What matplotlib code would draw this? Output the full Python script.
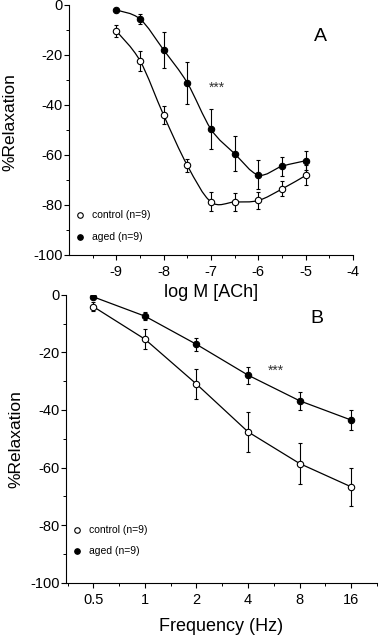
import matplotlib
matplotlib.use("Agg")
import matplotlib.pyplot as plt
import numpy as np
from matplotlib.lines import Line2D
from matplotlib.path import Path
from matplotlib.patches import PathPatch

plt.rcParams["font.family"] = ["Liberation Sans", "DejaVu Sans"]
plt.rcParams["axes.unicode_minus"] = False

# Panel A: ACh concentration-response
ach_logm = [-9, -8.5, -8, -7.5, -7, -6.5, -6, -5.5, -5]
ach_control = [-10.4, -22.3, -44.1, -64.2, -78.8, -78.8, -78.2, -73.6, -68.2]
ach_control_sem = [2.5, 4.0, 3.5, 2.5, 3.8, 3.5, 3.5, 3.0, 4.0]
ach_aged = [-2.0, -5.6, -18.0, -31.2, -49.7, -59.5, -68.0, -64.5, -62.3]
ach_aged_sem = [0.6, 2.0, 7.2, 8.5, 8.0, 7.0, 5.8, 3.8, 3.9]

# Panel B: electrical field stimulation
freq_hz = [0.5, 1, 2, 4, 8, 16]
freq_labels = ["0.5", "1", "2", "4", "8", "16"]
efs_control = [-4.1, -15.4, -31.0, -47.6, -58.6, -66.7]
efs_control_sem = [1.5, 3.5, 5.2, 7.0, 7.1, 6.7]
efs_aged = [-0.7, -7.4, -17.2, -27.9, -36.8, -43.5]
efs_aged_sem = [0.6, 1.5, 2.3, 3.0, 3.2, 3.6]

legend_labels = ["control (n=9)", "aged (n=9)"]


def smooth_path(ax, x, y):
    # Catmull-Rom curve through the points, drawn as cubic Bezier segments
    p = np.column_stack([x, y]).astype(float)
    ext = np.vstack([p[0], p, p[-1]])
    verts = [p[0]]
    codes = [Path.MOVETO]
    for i in range(1, len(ext) - 2):
        p0, p1, p2, p3 = ext[i - 1], ext[i], ext[i + 1], ext[i + 2]
        c1 = p1 + (p2 - p0) / 6.0
        c2 = p2 - (p3 - p1) / 6.0
        verts += [c1, c2, p2]
        codes += [Path.CURVE4] * 3
    patch = PathPatch(Path(verts, codes), facecolor="none", edgecolor="black",
                      lw=0.9, zorder=2)
    ax.add_patch(patch)


def style_axes(ax):
    ax.patch.set_visible(False)
    for side in ("top", "right"):
        ax.spines[side].set_visible(False)
    for side in ("left", "bottom"):
        ax.spines[side].set_linewidth(0.8)
    ax.tick_params(which="major", direction="out", length=3.5, width=0.8,
                   labelsize=10.5, pad=1.0)
    ax.tick_params(which="minor", direction="out", length=2.2, width=0.7)
    ax.tick_params(axis="x", which="major", pad=4)
    ax.set_ylim(-100, 0)
    ax.set_yticks(np.arange(-100, 1, 20))
    ax.set_yticks(np.arange(-90, 0, 20), minor=True)


def draw_points(ax, x, y, err, face):
    ax.errorbar(x, y, yerr=err, fmt="none", ecolor="black", elinewidth=0.8,
                capsize=1.6, capthick=0.8, zorder=3)
    ax.plot(x, y, linestyle="none", marker="o", ms=4.6, mfc=face, mec="black",
            mew=0.8, zorder=4)


def add_legend(ax, y_anchor, spacing):
    handles = [
        Line2D([], [], linestyle="none", marker="o", ms=4.0, mfc="white",
               mec="black", mew=0.8),
        Line2D([], [], linestyle="none", marker="o", ms=4.0, mfc="black",
               mec="black", mew=0.8),
    ]
    ax.legend(handles, legend_labels, loc="lower left",
              bbox_to_anchor=(0.0, y_anchor), frameon=False, fontsize=7.5,
              handlelength=1.0, handletextpad=0.6, labelspacing=spacing,
              borderaxespad=0.2)


fig = plt.figure(figsize=(3.8, 6.4), dpi=100)

# ---- Panel A
ax1 = fig.add_axes([0.1816, 0.6016, 0.7474, 0.3906])
style_axes(ax1)
ax1.set_xlim(-10, -4)
ax1.set_xticks(np.arange(-9, -3, 1))
ax1.set_xticks(np.arange(-9.5, -3.9, 1), minor=True)
smooth_path(ax1, ach_logm, ach_control)
smooth_path(ax1, ach_logm, ach_aged)
draw_points(ax1, ach_logm, ach_control, ach_control_sem, "white")
draw_points(ax1, ach_logm, ach_aged, ach_aged_sem, "black")
ax1.set_xlabel("log M [ACh]", fontsize=13)
ax1.set_ylabel("%Relaxation", fontsize=12.5)
ax1.xaxis.set_label_coords(0.5, -0.115)
ax1.yaxis.set_label_coords(-0.183, 0.53)
ax1.text(0.884, 0.872, "A", transform=ax1.transAxes, fontsize=14,
         ha="center", va="center")
ax1.text(0.521, 0.668, "***", transform=ax1.transAxes, fontsize=10,
         ha="center", va="center", color="#333333")
add_legend(ax1, 0.025, 1.15)

# ---- Panel B
ax2 = fig.add_axes([0.1737, 0.0895, 0.8184, 0.4498])
style_axes(ax2)
ax2.set_xscale("log", base=2)
ax2.set_xlim(2 ** -1.53, 2 ** 4.5)
ax2.set_xticks(freq_hz)
ax2.set_xticklabels(freq_labels)
ax2.set_xticks([2 ** (k + 0.5) for k in range(-2, 5)], minor=True)
ax2.xaxis.set_minor_formatter(matplotlib.ticker.NullFormatter())
ax2.plot(freq_hz, efs_control, color="black", lw=0.9, zorder=2)
ax2.plot(freq_hz, efs_aged, color="black", lw=0.9, zorder=2)
draw_points(ax2, freq_hz, efs_control, efs_control_sem, "white")
draw_points(ax2, freq_hz, efs_aged, efs_aged_sem, "black")
ax2.set_xlabel("Frequency (Hz)", fontsize=13)
ax2.set_ylabel("%Relaxation", fontsize=12.5)
ax2.xaxis.set_label_coords(0.5, -0.123)
ax2.yaxis.set_label_coords(-0.138, 0.5)
ax2.text(0.807, 0.919, "B", transform=ax2.transAxes, fontsize=14,
         ha="center", va="center")
ax2.text(0.675, 0.735, "***", transform=ax2.transAxes, fontsize=10,
         ha="center", va="center", color="#333333")
add_legend(ax2, 0.07, 1.05)

fig.savefig("out.png", dpi=100)
